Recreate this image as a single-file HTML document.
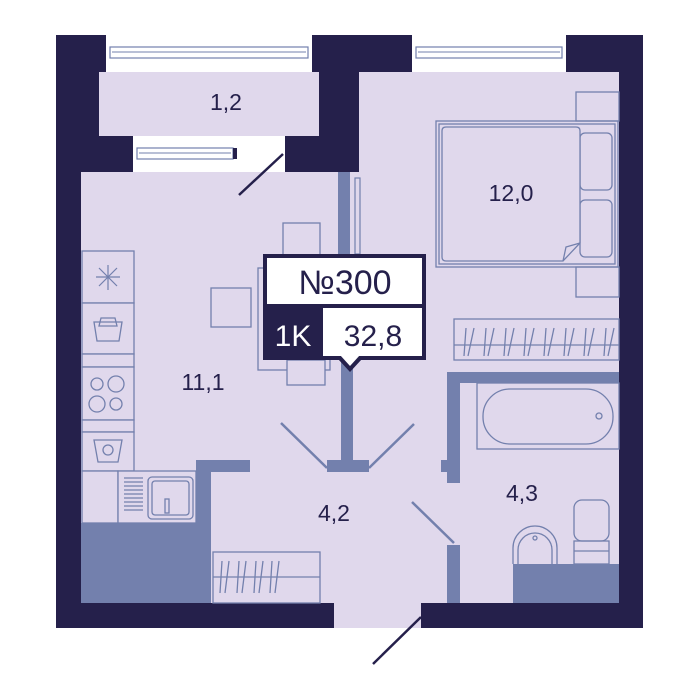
<!DOCTYPE html>
<html><head><meta charset="utf-8"><style>html,body{margin:0;padding:0;background:#fff}svg{display:block}</style></head>
<body>
<svg width="700" height="700" viewBox="0 0 700 700" xmlns="http://www.w3.org/2000/svg" font-family="'Liberation Sans', sans-serif">
<rect x="56" y="35" width="587" height="593" fill="#25204b"/>
<rect x="106" y="35" width="206" height="37" fill="#fff"/>
<rect x="110" y="47" width="198" height="11" fill="none" stroke="#7380ad" stroke-width="1.2"/>
<line x1="112" y1="52" x2="306" y2="52" stroke="#7380ad"/>
<rect x="412" y="35" width="154" height="37" fill="#fff"/>
<rect x="416" y="47" width="146" height="11" fill="none" stroke="#7380ad" stroke-width="1.2"/>
<line x1="418" y1="52" x2="560" y2="52" stroke="#7380ad"/>
<rect x="99" y="72" width="220" height="64" fill="#e0d8ec"/>
<rect x="133" y="136" width="152" height="36" fill="#fff"/>
<rect x="137" y="148" width="96" height="11" fill="none" stroke="#7380ad" stroke-width="1.2"/>
<line x1="139" y1="153" x2="231" y2="153" stroke="#7380ad"/>
<rect x="233" y="148" width="4" height="11" fill="#25204b"/>
<rect x="81" y="172" width="278" height="431" fill="#e0d8ec"/>
<rect x="359" y="72" width="260" height="531" fill="#e0d8ec"/>
<rect x="334" y="600" width="87" height="28" fill="#e0d8ec"/>
<line x1="283" y1="154" x2="239" y2="195" stroke="#25204b" stroke-width="2.5"/>
<rect x="338" y="172" width="12" height="82" fill="#7380ad"/>
<rect x="355" y="178" width="5" height="76" fill="none" stroke="#7380ad" stroke-width="1.2"/>
<rect x="341" y="360" width="12" height="102" fill="#7380ad"/>
<rect x="327" y="460" width="42" height="12" fill="#7380ad"/>
<line x1="281" y1="423" x2="327" y2="468" stroke="#7380ad" stroke-width="2.5"/>
<line x1="414" y1="424" x2="369" y2="468" stroke="#7380ad" stroke-width="2.5"/>
<rect x="199" y="460" width="51" height="12" fill="#7380ad"/>
<rect x="196" y="460" width="15" height="143" fill="#7380ad"/>
<rect x="81" y="523" width="130" height="80" fill="#7380ad"/>
<g fill="#e0d8ec" stroke="#7380ad" stroke-width="1.3">
<rect x="82" y="251" width="52" height="52"/>
<rect x="82" y="303" width="52" height="51"/>
<rect x="82" y="354" width="52" height="13"/>
<rect x="82" y="367" width="52" height="53"/>
<rect x="82" y="420" width="52" height="12"/>
<rect x="82" y="432" width="52" height="39"/>
<rect x="82" y="471" width="36" height="52"/>
<rect x="118" y="471" width="78" height="52"/>
<rect x="148" y="477" width="45" height="42" rx="4"/>
<rect x="152" y="481" width="37" height="34" rx="3"/>
<rect x="165" y="499" width="4" height="14"/>
<circle cx="97" cy="384" r="6"/><circle cx="116" cy="384" r="8"/>
<circle cx="97" cy="404" r="8"/><circle cx="116" cy="404" r="6"/>
<path d="M94 440 L122 440 L118 462 L98 462 Z" fill="none"/>
<circle cx="108" cy="450" r="5" fill="none"/>
<path d="M94 322 L122 322 L119 341 L97 341 Z" fill="none"/>
<path d="M101 318 L115 318 L117 326 L99 326 Z" fill="none"/>
</g>
<g stroke="#7380ad" stroke-width="1.2">
<line x1="124" y1="478" x2="143" y2="478"/><line x1="124" y1="482" x2="143" y2="482"/><line x1="124" y1="486" x2="143" y2="486"/><line x1="124" y1="490" x2="143" y2="490"/><line x1="124" y1="494" x2="143" y2="494"/><line x1="124" y1="498" x2="143" y2="498"/><line x1="124" y1="502" x2="143" y2="502"/><line x1="124" y1="506" x2="143" y2="506"/><line x1="124" y1="510" x2="143" y2="510"/>
<line x1="108" y1="265" x2="108" y2="290"/><line x1="96" y1="277" x2="120" y2="277"/>
<line x1="99" y1="268" x2="117" y2="286"/><line x1="117" y1="268" x2="99" y2="286"/>
</g>
<g fill="#e0d8ec" stroke="#7380ad" stroke-width="1.3">
<rect x="283" y="223" width="37" height="33"/>
<rect x="258" y="268" width="72" height="102"/>
<rect x="211" y="288" width="40" height="39"/>
<rect x="287" y="360" width="38" height="25"/>
</g>
<g fill="none" stroke="#7380ad" stroke-width="1.3">
<rect x="576" y="92" width="43" height="29"/>
<rect x="576" y="267" width="43" height="30"/>
<rect x="436" y="121" width="182" height="146"/>
<rect x="439" y="124" width="176" height="140"/>
<rect x="580" y="133" width="32" height="57" rx="5"/>
<rect x="580" y="200" width="32" height="57" rx="5"/>
<path d="M446 127 L576 127 Q580 127 580 131 L580 243 L563 261 L446 261 Q442 261 442 257 L442 131 Q442 127 446 127 Z" fill="#e0d8ec"/>
<path d="M563 261 L566 247 L580 243" />
</g>
<g fill="none" stroke="#7380ad" stroke-width="1.3">
<rect x="454" y="319" width="165" height="41"/>
<line x1="454" y1="345" x2="619" y2="345"/>
<path d="M466 328 L464 356 M474 328 L468 356 M486 328 L484 356 M494 328 L488 356 M506 328 L504 356 M514 328 L508 356 M526 328 L524 356 M534 328 L528 356 M546 328 L544 356 M554 328 L548 356 M566 328 L564 356 M574 328 L568 356 M586 328 L584 356 M594 328 L588 356 M606 328 L604 356 M614 328 L608 356"/>
</g>
<rect x="447" y="372" width="172" height="11" fill="#7380ad"/>
<rect x="447" y="372" width="13" height="111" fill="#7380ad"/>
<rect x="441" y="460" width="8" height="12" fill="#7380ad"/>
<rect x="447" y="545" width="13" height="58" fill="#7380ad"/>
<line x1="412" y1="502" x2="454" y2="543" stroke="#7380ad" stroke-width="2.5"/>
<g fill="none" stroke="#7380ad" stroke-width="1.3">
<rect x="477" y="383" width="142" height="66"/>
<rect x="483" y="389" width="130" height="55" rx="27"/>
<circle cx="599" cy="416" r="3"/>
<rect x="574" y="500" width="35" height="41" rx="8"/>
<rect x="574" y="541" width="35" height="23"/>
<line x1="574" y1="551" x2="609" y2="551"/>
<path d="M513 564 L513 548 A22 22 0 0 1 557 548 L557 564"/>
<path d="M518 564 L518 550 A17 17 0 0 1 552 550 L552 564"/>
<circle cx="535" cy="538" r="2"/>
</g>
<rect x="513" y="564" width="106" height="39" fill="#7380ad"/>
<g fill="none" stroke="#7380ad" stroke-width="1.3">
<rect x="213" y="552" width="107" height="51"/>
<line x1="213" y1="577" x2="320" y2="577"/>
<path d="M222 561 L220 593 M229 561 L225 593 M239 561 L237 593 M246 561 L242 593 M256 561 L254 593 M263 561 L259 593 M272 561 L270 593 M279 561 L275 593"/>
</g>
<rect x="334" y="603" width="87" height="25" fill="#e0d8ec"/>
<line x1="421" y1="617" x2="373" y2="664" stroke="#25204b" stroke-width="2.5"/>
<g fill="#25204b" font-size="23" text-anchor="middle">
<text x="226" y="110">1,2</text>
<text x="511" y="201">12,0</text>
<text x="203" y="390">11,1</text>
<text x="334" y="521">4,2</text>
<text x="522" y="501">4,3</text>
</g>
<rect x="263" y="254" width="163" height="106" fill="#25204b"/>
<rect x="267" y="258" width="155" height="46" fill="#fff"/>
<rect x="323" y="308" width="99" height="48" fill="#fff"/>
<path d="M338 359 L350 372 L362 359 Z" fill="#25204b"/>
<path d="M340 355 L350 366 L360 355 Z" fill="#fff"/>
<text x="345" y="294" font-size="34" fill="#25204b" text-anchor="middle">№300</text>
<text x="293" y="346" font-size="30" fill="#fff" text-anchor="middle">1K</text>
<text x="373" y="346" font-size="30" fill="#25204b" text-anchor="middle">32,8</text>
</svg>
</body></html>
